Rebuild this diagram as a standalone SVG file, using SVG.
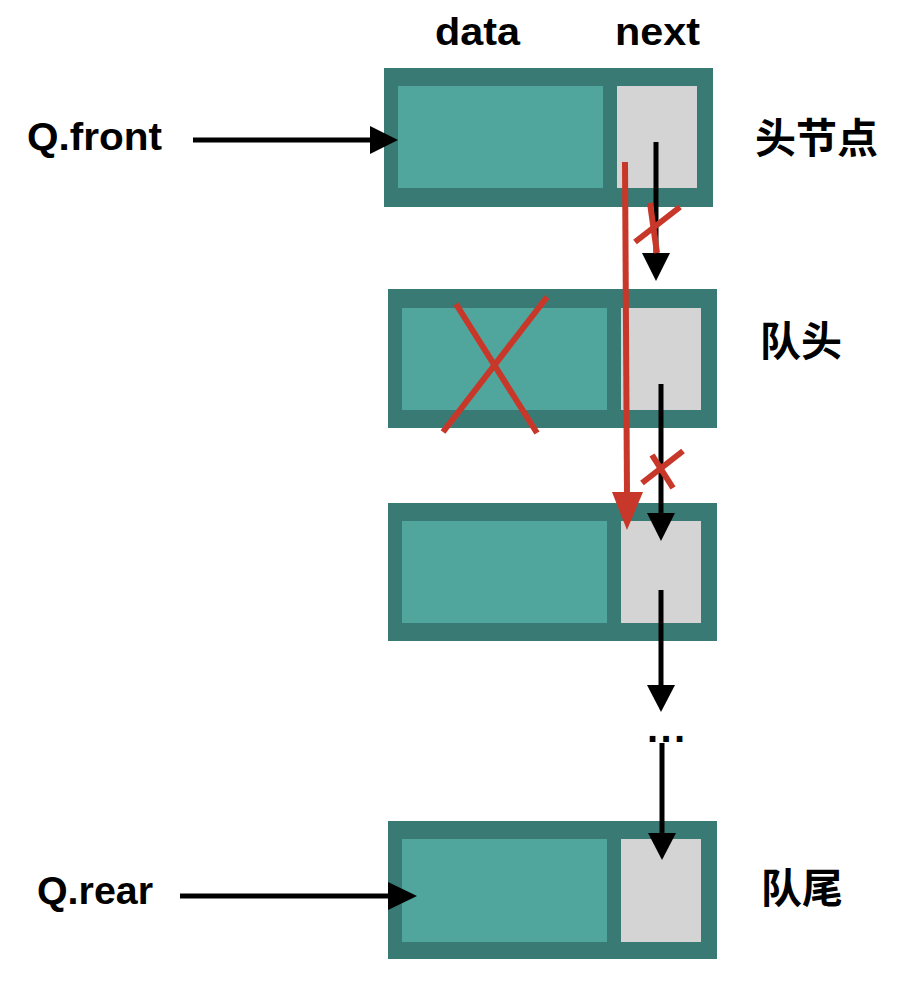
<svg xmlns="http://www.w3.org/2000/svg" width="900" height="992" viewBox="0 0 900 992">
<style>
.outer{fill:#3A7A75}
.data{fill:#50A69C}
.next{fill:#D4D4D4}
.lbl{font-family:"Liberation Sans",Arial,sans-serif;font-weight:bold;font-size:39px;fill:#000}
.cjk{font-family:"Noto Sans CJK SC",sans-serif;font-weight:bold;font-size:41px;fill:#000}
.blk{stroke:#000;stroke-width:5;fill:none}
.red{stroke:#C8382A;stroke-width:6;fill:none}
</style>
<rect width="900" height="992" fill="#fff"/>
<g id="header">
<text class="lbl" x="435" y="45" textLength="85" lengthAdjust="spacingAndGlyphs">data</text>
<text class="lbl" x="615" y="45" textLength="85" lengthAdjust="spacingAndGlyphs">next</text>
</g>
<g id="qfront"><text class="lbl" x="27" y="150" textLength="135" lengthAdjust="spacingAndGlyphs">Q.front</text></g>
<g id="qrear"><text class="lbl" x="37" y="904" textLength="116" lengthAdjust="spacingAndGlyphs">Q.rear</text></g>
<g id="node1">
<rect class="outer" x="384" y="68" width="329" height="139"/>
<rect class="data" x="398" y="86" width="205" height="102"/>
<rect class="next" x="617" y="86" width="80" height="102"/>
<text class="cjk" x="755" y="153">头节点</text>
</g>
<g id="node2">
<rect class="outer" x="388" y="289" width="329" height="139"/>
<rect class="data" x="402" y="308" width="205" height="102"/>
<rect class="next" x="621" y="308" width="80" height="102"/>
<text class="cjk" x="760" y="356">队头</text>
</g>
<g id="node3">
<rect class="outer" x="388" y="503" width="329" height="138"/>
<rect class="data" x="402" y="521" width="205" height="102"/>
<rect class="next" x="621" y="521" width="80" height="102"/>
</g>
<g id="ellipsis"><text class="lbl" x="647" y="742" style="font-size:40px" textLength="38" lengthAdjust="spacing">...</text></g>
<g id="node4">
<rect class="outer" x="388" y="821" width="329" height="138"/>
<rect class="data" x="402" y="839" width="205" height="103"/>
<rect class="next" x="621" y="839" width="80" height="103"/>
<text class="cjk" x="761" y="903">队尾</text>
</g>
<g id="connectors">
<line class="blk" x1="193" y1="140" x2="372" y2="140"/>
<polygon points="370,126 398,140 370,154" fill="#000"/>
<line class="blk" x1="180" y1="896" x2="390" y2="896"/>
<polygon points="388,882 417,896 388,910" fill="#000"/>
<line class="blk" x1="656" y1="142" x2="656" y2="256"/>
<polygon points="642,253 670,253 656,281" fill="#000"/>
<line class="blk" x1="661" y1="384" x2="661" y2="515"/>
<polygon points="647,513 675,513 661,541" fill="#000"/>
<line class="blk" x1="661" y1="590" x2="661" y2="688"/>
<polygon points="647,685 675,685 661,712" fill="#000"/>
<line class="blk" x1="662" y1="743" x2="662" y2="836"/>
<polygon points="648,833 676,833 662,860" fill="#000"/>
<line class="red" stroke-width="7" x1="625" y1="162" x2="627" y2="495"/>
<polygon points="612,492 643,492 627,530" fill="#C8382A"/>
<line class="red" x1="456" y1="304" x2="537" y2="433"/>
<line class="red" x1="547" y1="297" x2="443" y2="432"/>
<line class="red" x1="635" y1="242" x2="680" y2="207"/>
<line class="red" x1="650" y1="203" x2="657" y2="253"/>
<line class="red" x1="642" y1="483" x2="683" y2="451"/>
<line class="red" x1="652" y1="455" x2="673" y2="488"/>
</g>
</svg>
